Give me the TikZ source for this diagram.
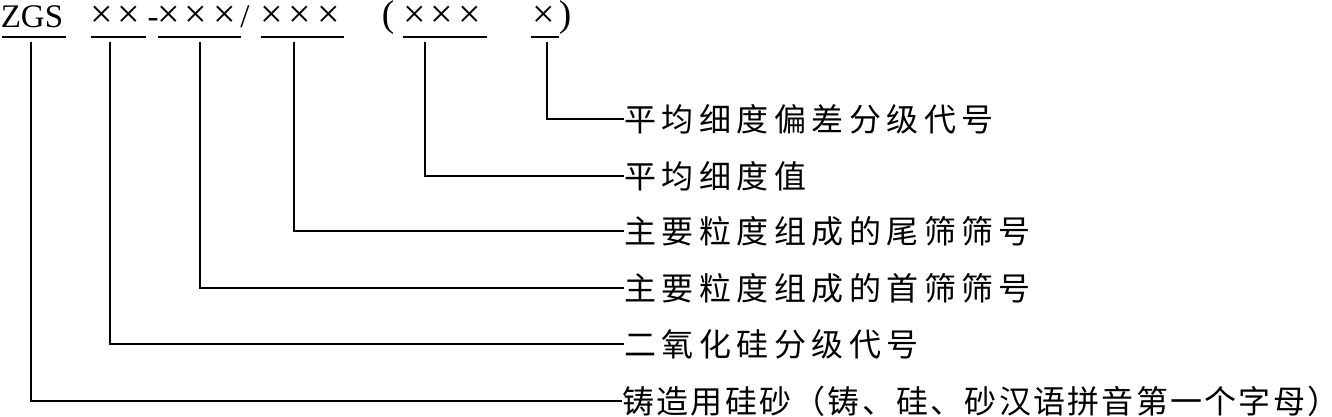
\documentclass[tikz,border=0pt]{standalone}
\usepackage{fontspec}
\setmainfont{Liberation Serif}
\newfontfamily\cjk[LetterSpace=17]{Noto Sans CJK SC}
\newfontfamily\cjktight[LetterSpace=7]{Noto Sans CJK SC}

\begin{document}
\begin{tikzpicture}[x=0.75pt, y=-0.75pt, line width=0.8pt,
  codetext/.style={font=\fontsize{24.75}{28}\selectfont, inner sep=0pt, anchor=base},
  cross/.style={codetext, font=\fontsize{30}{32}\selectfont, text height=0.5em,
    text depth=0pt, inner xsep=-1.5pt},
  paren/.style={codetext, font=\fontsize{28}{30}\selectfont, text height=0.7em},
  expl/.style={font=\cjk\fontsize{24}{26}\selectfont, inner sep=0pt, anchor=west}]
  \useasboundingbox (0,0) rectangle (1332,417);
  % Designation line
  \node[codetext] (zgs) at (32,28) {ZGS};
  \foreach \n/\x in {a1/102, a2/129, b1/169, b2/196, b3/225, c1/272, c2/300,
                     c3/329, d1/415, d2/442, d3/470, e1/544}
    \node[cross] (x\n) at (\x,28) {×};
  \node[codetext] (dash) at (153,28) {-};
  \node[codetext] (slash) at (245,28) {/};
  \node[paren] (lpar) at (388,27) {(};
  \node[paren] (rpar) at (565,27) {)};
  % Underlines
  \draw (2,37) -- (66,37);
  \draw (91,37) -- (146,37);
  \draw (158,37) -- (241,37);
  \draw (261,37) -- (344,37);
  \draw (403,37) -- (487,37);
  \draw (531,37) -- (559,37);
  % Tick tops below the underlines
  \coordinate (tzgs) at (31,42);
  \coordinate (ta) at (110,42);
  \coordinate (tb) at (200,42);
  \coordinate (tc) at (294,42);
  \coordinate (td) at (425,42);
  \coordinate (te) at (547,42);
  % Explanations
  \node[expl] (dev)    at (624,119) {平均细度偏差分级代号};
  \node[expl] (mean)   at (624,176) {平均细度值};
  \node[expl] (tail)   at (624,231) {主要粒度组成的尾筛筛号};
  \node[expl] (head)   at (624,288) {主要粒度组成的首筛筛号};
  \node[expl] (silica) at (624,344) {二氧化硅分级代号};
  \node[expl, font=\cjktight\fontsize{24}{26}\selectfont] (sand) at (622,401)
    {铸造用硅砂（铸、硅、砂汉语拼音第一个字母）};
  % Leaders
  \draw (te) |- (dev.west);
  \draw (td) |- (mean.west);
  \draw (tc) |- (tail.west);
  \draw (tb) |- (head.west);
  \draw (ta) |- (silica.west);
  \draw (tzgs) |- (sand.west);
\end{tikzpicture}
\end{document}
